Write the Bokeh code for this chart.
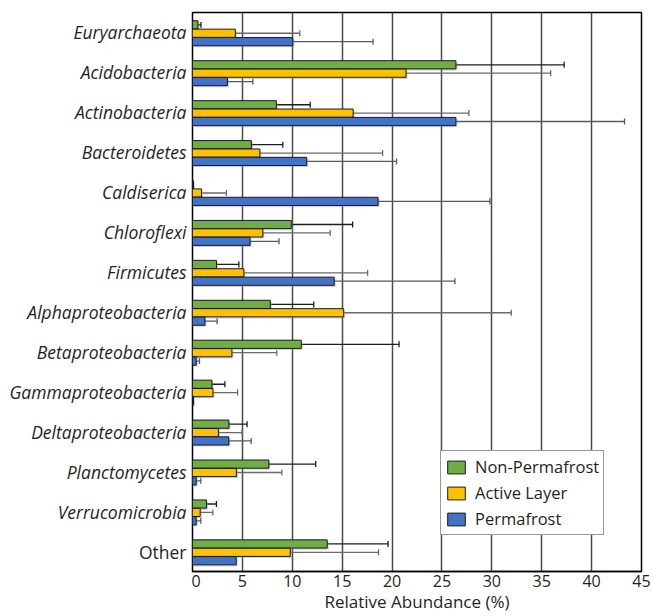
import numpy as np
from bokeh.plotting import figure
from bokeh.layouts import row
from bokeh.models import (ColumnDataSource, Range1d, FixedTicker, Whisker,
                          Legend, LegendItem, TeeHead)
from bokeh.transform import dodge
from bokeh.core.properties import value
from bokeh.embed import file_html
from bokeh.resources import INLINE

categories = ["Euryarchaeota", "Acidobacteria", "Actinobacteria", "Bacteroidetes",
              "Caldiserica", "Chloroflexi", "Firmicutes", "Alphaproteobacteria",
              "Betaproteobacteria", "Gammaproteobacteria", "Deltaproteobacteria",
              "Planctomycetes", "Verrucomicrobia", "Other"]
label_styles = ["italic"] * 13 + ["normal"]

non_permafrost = [0.55, 26.4, 8.4, 5.9, 0.1, 9.9, 2.4, 7.8, 10.9, 1.95, 3.65, 7.65, 1.4, 13.5]
non_permafrost_err = [0.3, 10.85, 3.4, 3.15, np.nan, 6.15, 2.25, 4.35, 9.8, 1.3, 1.82, 4.7, 1.0, 6.1]

active_layer = [4.3, 21.4, 16.1, 6.75, 0.9, 7.05, 5.15, 15.15, 3.95, 2.05, 2.6, 4.4, 0.77, 9.8]
active_layer_err = [6.45, 14.5, 11.6, 12.3, 2.5, 6.75, 12.4, 16.8, 4.5, 2.47, 2.37, 4.55, 1.27, 8.85]

permafrost = [10.05, 3.5, 26.4, 11.45, 18.6, 5.77, 14.2, 1.25, 0.37, 0.1, 3.64, 0.37, 0.37, 4.38]
permafrost_err = [8.05, 2.55, 16.9, 9.0, 11.2, 2.9, 12.1, 1.22, 0.33, np.nan, 2.24, 0.46, 0.46, np.nan]

x_ticks = [0, 5, 10, 15, 20, 25, 30, 35, 40, 45]
x_title = "Relative Abundance (%)"
series_names = ["Non-Permafrost", "Active Layer", "Permafrost"]
colors = ["#70AD47", "#FFC000", "#4472C4"]
err_colors = ["#1e1e1e", "#6a6a6a", "#5a5a5a"]
offsets = [0.19, -0.02, -0.23]

FONT = "Open Sans"
TXT = "#231f20"
H = 616
TOP = 12
BOTTOM = 45

n = len(categories)
ypos = np.arange(n)[::-1].astype(float)
y_range = Range1d(-0.5, n - 0.5)


def style_xaxis(fig, hidden=False):
    ax = fig.xaxis[0]
    ax.ticker = FixedTicker(ticks=x_ticks)
    ax.axis_line_color = "black"
    ax.axis_line_width = 1.5
    ax.major_tick_in = 0
    ax.major_tick_out = 0
    ax.minor_tick_line_color = None
    ax.major_label_standoff = 3
    ax.major_label_text_font = FONT
    ax.major_label_text_font_size = "16px"
    ax.major_label_text_color = TXT
    ax.major_label_text_line_height = 1.0
    ax.axis_label = x_title
    ax.axis_label_text_font = FONT
    ax.axis_label_text_font_size = "17px"
    ax.axis_label_text_font_style = "normal"
    ax.axis_label_text_color = TXT
    ax.axis_label_text_line_height = 1.0
    ax.axis_label_standoff = 0
    if hidden:
        ax.axis_line_alpha = 0
        ax.major_label_text_alpha = 0
        ax.axis_label_text_alpha = 0


# left panel: category names
left = figure(width=191, height=H, output_backend="svg", toolbar_location=None,
              x_range=Range1d(0, 1), y_range=y_range,
              min_border_left=0, min_border_right=0, min_border_top=TOP,
              min_border_bottom=BOTTOM)
left.outline_line_color = None
left.grid.visible = False
left.yaxis.visible = False
style_xaxis(left, hidden=True)
lab_src = ColumnDataSource(dict(y=ypos, name=categories, style=label_styles))
left.text(x=1, y="y", text="name", source=lab_src, x_offset=-5,
          text_align="right", text_baseline="middle",
          text_font=value(FONT), text_font_size="17.5px",
          text_font_style="style", text_color=TXT)

# main chart
p = figure(width=461, height=H, output_backend="svg", toolbar_location=None,
           x_range=Range1d(0, 45), y_range=y_range,
           min_border_left=1, min_border_right=11, min_border_top=TOP,
           min_border_bottom=BOTTOM)
p.background_fill_color = "white"
p.outline_line_color = "black"
p.outline_line_width = 1.5
p.ygrid.visible = False
p.yaxis.visible = False
style_xaxis(p)
p.xgrid.ticker = FixedTicker(ticks=x_ticks)
p.xgrid.grid_line_color = "#4a4a4a"
p.xgrid.grid_line_width = 1.5

items = []
for vals, errs, name, col, ecol, off in zip(
        [non_permafrost, active_layer, permafrost],
        [non_permafrost_err, active_layer_err, permafrost_err],
        series_names, colors, err_colors, offsets):
    vals = np.array(vals, dtype=float)
    errs = np.array(errs, dtype=float)
    src = ColumnDataSource(dict(y=ypos, v=vals))
    # soft drop shadow
    p.hbar(y=dodge("y", off - 0.04), right=dodge("v", 0.15), left=0.15, height=0.205,
           source=src, fill_color="#9a9a9a", fill_alpha=0.45, line_color=None)
    r = p.hbar(y=dodge("y", off), right="v", left=0, height=0.205, source=src,
               fill_color=col, line_color="#1a1a1a", line_width=1)
    items.append(LegendItem(label=name, renderers=[r]))
    m = ~np.isnan(errs)
    esrc = ColumnDataSource(dict(y=ypos[m], lower=np.maximum(vals[m] - errs[m], 0.0),
                                 upper=vals[m] + errs[m]))
    w = Whisker(source=esrc, base=dodge("y", off), lower="lower", upper="upper",
                dimension="width", line_color=ecol, line_width=1.3,
                upper_head=TeeHead(size=6, line_color=ecol, line_width=1.3),
                lower_head=TeeHead(size=6, line_color=ecol, line_width=1.3))
    p.add_layout(w)

legend = Legend(items=items, location=(248, 36), orientation="vertical")
legend.label_text_font = FONT
legend.label_text_font_size = "16.5px"
legend.label_text_color = TXT
legend.glyph_width = 22
legend.glyph_height = 16
legend.label_height = 20
legend.label_standoff = 8
legend.spacing = 3
legend.padding = 4
legend.margin = 0
legend.border_line_color = "#333333"
legend.border_line_width = 1.5
legend.background_fill_alpha = 1
p.add_layout(legend, "center")

layout = row(left, p, spacing=0)
open("out.html", "w").write(file_html(layout, INLINE))
